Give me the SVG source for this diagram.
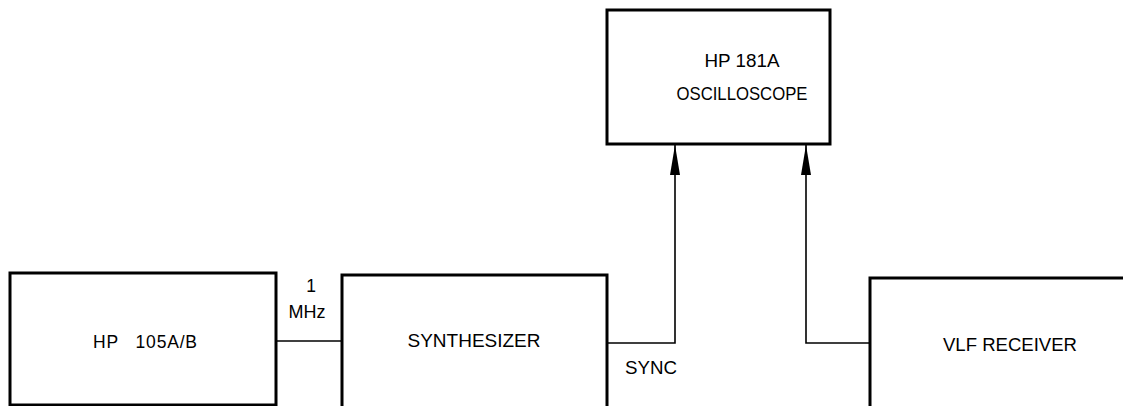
<svg xmlns="http://www.w3.org/2000/svg" width="1123" height="406" viewBox="0 0 1123 406">
<style>
.box{fill:#fff;stroke:#000;stroke-width:3}
.conn{fill:none;stroke:#000;stroke-width:1.6}
text{font-family:"Liberation Sans",Arial,sans-serif;font-size:17.5px;fill:#000}
.c{text-anchor:middle}
</style>
<defs>
<marker id="arr" markerWidth="30" markerHeight="10" refX="30" refY="5" orient="auto" markerUnits="userSpaceOnUse" viewBox="0 0 30 10">
<path d="M0,0 L30,5 L0,10 Z" fill="#000"/>
</marker>
</defs>
<rect width="1123" height="406" fill="#fff"/>
<g id="connectors">
<path class="conn" d="M276,341 H342"/>
<path class="conn" d="M607,343 H675 V145" marker-end="url(#arr)"/>
<path class="conn" d="M870,343 H806 V145" marker-end="url(#arr)"/>
<text x="311" y="292" class="c">1</text>
<text x="307" y="318" class="c" textLength="37" lengthAdjust="spacingAndGlyphs">MHz</text>
<text x="651" y="374" class="c" textLength="52" lengthAdjust="spacingAndGlyphs">SYNC</text>
</g>
<g id="hp105">
<rect class="box" x="10" y="273" width="266" height="132"/>
<text x="145" y="348" class="c" xml:space="preserve" textLength="104" lengthAdjust="spacing">HP   105A/B</text>
</g>
<g id="synth">
<rect class="box" x="342" y="275" width="265" height="140"/>
<text x="474" y="347" class="c" textLength="133" lengthAdjust="spacingAndGlyphs">SYNTHESIZER</text>
</g>
<g id="scope">
<rect class="box" x="607" y="10" width="223" height="134"/>
<text x="742" y="67" class="c" textLength="75" lengthAdjust="spacingAndGlyphs">HP 181A</text>
<text x="742" y="100" class="c" textLength="131" lengthAdjust="spacingAndGlyphs">OSCILLOSCOPE</text>
</g>
<g id="vlf">
<rect class="box" x="870" y="278" width="270" height="140"/>
<text x="1010" y="351" class="c" textLength="134" lengthAdjust="spacingAndGlyphs">VLF RECEIVER</text>
</g>
</svg>
